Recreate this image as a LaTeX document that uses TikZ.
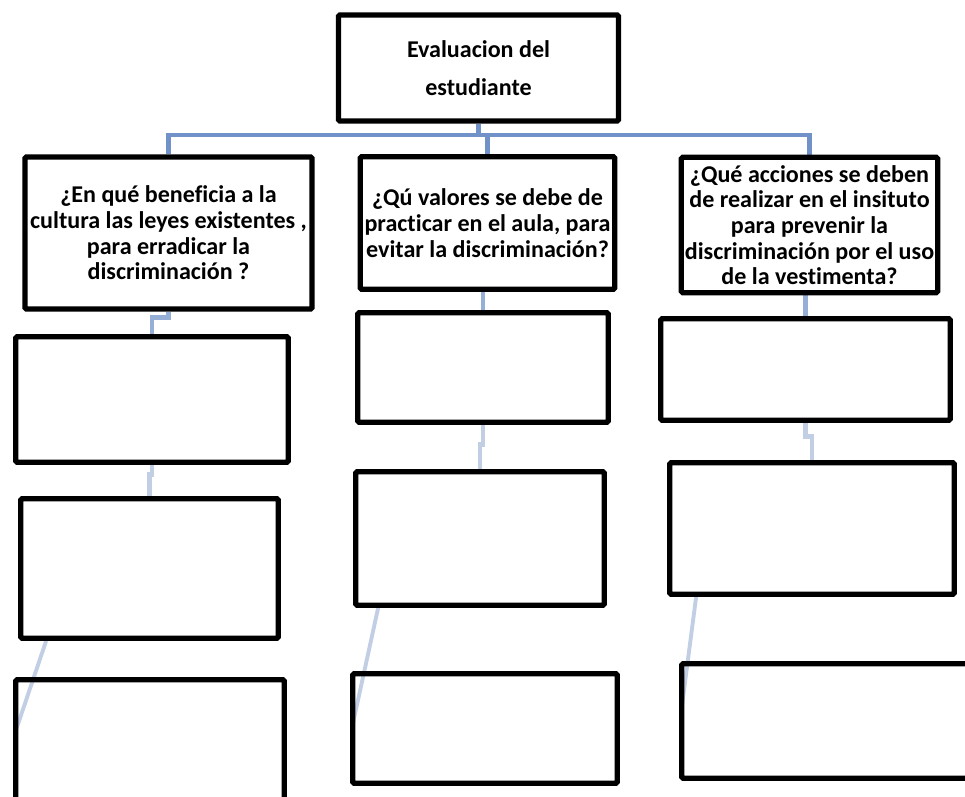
\documentclass[tikz,border=0pt]{standalone}
\usepackage{fontspec}
\setmainfont{Carlito}[Ligatures=NoCommon]
\usetikzlibrary{calc,backgrounds}
\definecolor{trunkblue}{RGB}{112,146,200}
\definecolor{stemblue}{RGB}{150,175,215}
\definecolor{paleblue}{RGB}{194,206,228}

\begin{document}
\begin{tikzpicture}[x=0.02cm,y=-0.02cm,
  box/.style={draw,line width=3pt,rounded corners=0.8pt,inner sep=2pt,align=center,
    font=\bfseries\fontsize{13.7}{14.6}\selectfont},
  trunk/.style={trunkblue,line width=2.8pt},
  stemA/.style={stemblue,line width=2.8pt},
  stemB/.style={paleblue,line width=2.8pt},
  stemC/.style={paleblue,line width=2.2pt}]
 \useasboundingbox (0,0) rectangle (965,797);
 \clip (0,0) rectangle (965,797);
 % root
 \node[box,minimum width=5.6cm,minimum height=2.12cm,
   font=\bfseries\fontsize{13.7}{21.6}\selectfont] (top) at (478.5,68) {Evaluacion del\\estudiante};
 % questions
 \node[box,minimum width=5.74cm,minimum height=3.04cm] (l1) at (168.5,233)
   {¿En qué beneficia a la\\cultura las leyes existentes ,\\para erradicar la\\discriminación ?};
 \node[box,minimum width=5.09cm,minimum height=2.65cm] (m1) at (487.5,223)
   {¿Qú valores se debe de\\practicar en el aula, para\\evitar la discriminación?};
 \node[box,minimum width=5.07cm,minimum height=2.71cm] (r1) at (809.5,225)
   {¿Qué acciones se deben\\de realizar en el insituto\\para prevenir la\\discriminación por el uso\\de la vestimenta?};
 % empty answer boxes
 \node[box,minimum width=5.45cm,minimum height=2.51cm] (l2) at (152,399.5) {};
 \node[box,minimum width=5.15cm,minimum height=2.79cm] (l3) at (149.5,568.5) {};
 \node[box,minimum width=5.37cm,minimum height=3.15cm] (l4) at (150,758.5) {};
 \node[box,minimum width=5.01cm,minimum height=2.19cm] (m2) at (483,367.5) {};
 \node[box,minimum width=4.97cm,minimum height=2.67cm] (m3) at (480,538.5) {};
 \node[box,minimum width=5.29cm,minimum height=2.19cm] (m4) at (485,728.5) {};
 \node[box,minimum width=5.79cm,minimum height=2.03cm] (r2) at (805.5,369.5) {};
 \node[box,minimum width=5.69cm,minimum height=2.63cm] (r3) at (812,528.5) {};
 \node[box,minimum width=6.51cm,minimum height=2.29cm] (r4) at (844.5,721) {};
 \coordinate (bar) at (479,135);
 \coordinate (l4end) at (15,733);
 \coordinate (m4end) at (353,723);
 \coordinate (r4end) at (681,713);
 \begin{scope}[on background layer]
  \draw[trunk] (top.south) -- (top.south |- bar);
  \draw[trunk] (l1.north) |- (bar) -| (r1.north);
  \draw[trunk] (m1.north |- bar) -- (m1.north);
  \draw[stemA] (l1.south) -- ++(0,6) -| (l2.north);
  \draw[stemA] (m1.south -| m2.north) -- (m2.north);
  \draw[stemA] (r1.south -| r2.north) -- (r2.north);
  \draw[stemB] (l2.south) -- ++(0,10) -| (l3.north);
  \draw[stemB] (m2.south) -- ++(0,20) -| (m3.north);
  \draw[stemB] (r2.south) -- ++(0,14) -| (r3.north);
  \draw[stemC] ($(l3.south west)+(28,0)$) -- (l4end);
  \draw[stemC] ($(m3.south west)+(25,0)$) -- (m4end);
  \draw[stemC] ($(r3.south west)+(29,0)$) -- (r4end);
 \end{scope}
\end{tikzpicture}
\end{document}
